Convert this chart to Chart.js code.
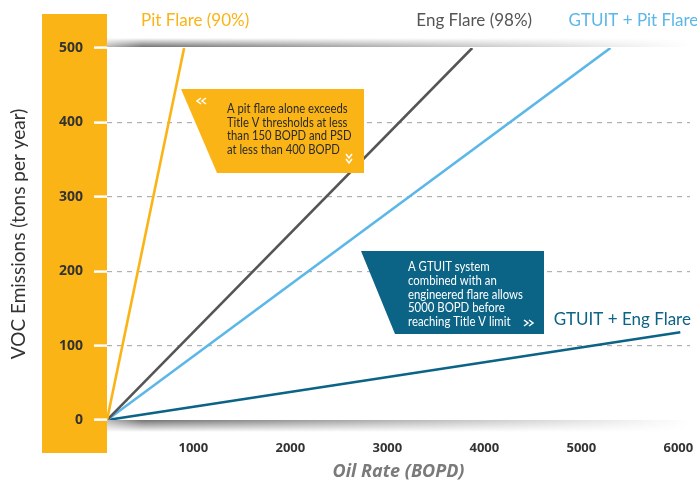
<!DOCTYPE html>
<html>
<head>
<meta charset="utf-8">
<script src="https://cdn.jsdelivr.net/npm/chart.js@4.4.1/dist/chart.umd.min.js"></script>
<style>
  html, body { margin: 0; padding: 0; background: #fff; }
  #wrap { width: 697px; height: 483px; position: relative; }
</style>
</head>
<body>
<div id="wrap"><canvas id="vocChart" width="697" height="483"></canvas></div>
<script>
// Series: every line starts at the chart origin
const seriesNames = ['Pit Flare (90%)', 'Eng Flare (98%)', 'GTUIT + Pit Flare', 'GTUIT + Eng Flare'];
const seriesColors = ['#FBB416', '#555555', '#5BB7E8', '#0B6386'];
const startRate = [110, 110, 110, 110];
const startVoc = [0, 0, 0, 0];
const endRate = [905, 3875, 5300, 6020];
const endVoc = [500, 500, 500, 118];

const yTicks = [0, 100, 200, 300, 400, 500];
const xTicks = [1000, 2000, 3000, 4000, 5000, 6000];

const orange = '#FBB416';
const teal = '#0B6386';

const datasets = seriesNames.map((name, i) => ({
    label: name,
    data: [{ x: startRate[i], y: startVoc[i] }, { x: endRate[i], y: endVoc[i] }],
    borderColor: seriesColors[i],
    borderWidth: 2.6,
    pointRadius: 0,
    fill: false,
    tension: 0
}));

function chevron(ctx, x, y, dir) {
    // small white chevron, dir = 'left' | 'right' | 'down'
    ctx.beginPath();
    if (dir === 'left') { ctx.moveTo(x + 4, y - 3); ctx.lineTo(x, y); ctx.lineTo(x + 4, y + 3); }
    if (dir === 'right') { ctx.moveTo(x, y - 3); ctx.lineTo(x + 4, y); ctx.lineTo(x, y + 3); }
    if (dir === 'down') { ctx.moveTo(x - 3, y); ctx.lineTo(x, y + 4); ctx.lineTo(x + 3, y); }
    ctx.stroke();
}

// narrow text: draw squeezed horizontally
function narrowText(ctx, s, x, y, k) {
    ctx.save();
    ctx.translate(x, y);
    ctx.scale(k, 1);
    ctx.fillText(s, 0, 0);
    ctx.restore();
}

// orange band behind the y axis + shadow bars at 0 and 500
const backdrop = {
    id: 'backdrop',
    beforeDraw(chart) {
        const { ctx, chartArea } = chart;
        ctx.save();
        ctx.fillStyle = orange;
        ctx.fillRect(chartArea.left - 65, chartArea.top - 34, 65, chartArea.bottom - chartArea.top + 67);

        // soft grey bars, fading to the right
        const w = chartArea.right - chartArea.left;
        for (let x = 0; x < w; x += 1) {
            const t = x / w;
            let a = t < 0.06 ? 0.5 + t / 0.12 : 1 - (t - 0.06) / 0.94;
            a = Math.max(0, a) * 0.8;
            const px = chartArea.left + x;
            let g = ctx.createLinearGradient(0, chartArea.top - 10, 0, chartArea.top - 1);
            g.addColorStop(0, 'rgba(80,80,80,0)');
            g.addColorStop(1, 'rgba(80,80,80,' + a + ')');
            ctx.fillStyle = g;
            ctx.fillRect(px, chartArea.top - 10, 1, 9);
            g = ctx.createLinearGradient(0, chartArea.bottom, 0, chartArea.bottom + 12);
            g.addColorStop(0, 'rgba(80,80,80,' + a + ')');
            g.addColorStop(1, 'rgba(80,80,80,0)');
            ctx.fillStyle = g;
            ctx.fillRect(px, chartArea.bottom, 1, 12);
        }
        ctx.restore();
    },
    afterDraw(chart) {
        const { ctx } = chart;
        const xs = chart.scales.x, ys = chart.scales.y;
        ctx.save();

        // series labels next to line ends
        ctx.font = '17px Lato';
        ctx.textBaseline = 'middle';
        ctx.textAlign = 'center';
        const labelOffsets = [[11, -27], [2, -27], [23, -27], [-58, -13]];
        seriesNames.forEach((name, i) => {
            const px = xs.getPixelForValue(endRate[i]) + labelOffsets[i][0];
            const py = ys.getPixelForValue(endVoc[i]) + labelOffsets[i][1];
            ctx.fillStyle = seriesColors[i];
            ctx.fillText(name, px, py);
        });

        // orange callout
        ctx.fillStyle = orange;
        ctx.beginPath();
        ctx.moveTo(181, 89); ctx.lineTo(364, 89); ctx.lineTo(364, 173); ctx.lineTo(217, 173);
        ctx.closePath(); ctx.fill();
        ctx.strokeStyle = '#ffffff';
        ctx.lineWidth = 1.5;
        chevron(ctx, 197, 101, 'left'); chevron(ctx, 202, 101, 'left');
        chevron(ctx, 349, 154, 'down'); chevron(ctx, 349, 159, 'down');
        ctx.fillStyle = '#2a2a2a';
        ctx.font = '12.5px Lato';
        ctx.textAlign = 'left';
        ['A pit flare alone exceeds', 'Title V thresholds at less', 'than 150 BOPD and PSD', 'at less than 400 BOPD']
            .forEach((s, i) => narrowText(ctx, s, 227, 109 + i * 13.5, 0.9));

        // teal callout
        ctx.fillStyle = teal;
        ctx.beginPath();
        ctx.moveTo(361, 251); ctx.lineTo(544, 251); ctx.lineTo(544, 334); ctx.lineTo(395, 334);
        ctx.closePath(); ctx.fill();
        ctx.fillStyle = '#ffffff';
        ['A GTUIT system', 'combined with an', 'engineered flare allows', '5000 BOPD before', 'reaching Title V limit']
            .forEach((s, i) => narrowText(ctx, s, 408, 267 + i * 13.8, 0.91));
        chevron(ctx, 524, 323, 'right'); chevron(ctx, 529, 323, 'right');
        ctx.restore();
    }
};

new Chart(document.getElementById('vocChart'), {
    type: 'line',
    data: { datasets },
    options: {
        responsive: false,
        animation: false,
        layout: { padding: { top: 48, right: 7, left: 0, bottom: 0 } },
        plugins: { legend: { display: false }, tooltip: { enabled: false } },
        scales: {
            x: {
                type: 'linear',
                min: 110,
                max: 6120,
                afterBuildTicks(scale) { scale.ticks = xTicks.map(v => ({ value: v })); },
                afterFit(scale) { scale.height = 63; scale.paddingLeft = 0; scale.paddingRight = 0; },
                grid: { display: false },
                border: { display: false },
                ticks: {
                    padding: 12,
                    color: '#333',
                    font: { family: '"Open Sans"', size: 13, weight: 'bold' },
                    callback: v => String(v)
                },
                title: {
                    display: true,
                    text: 'Oil Rate (BOPD)',
                    color: '#7a7a7a',
                    padding: { top: 0, bottom: 0 },
                    font: { family: '"Open Sans"', size: 18, weight: 'bold', style: 'italic' }
                }
            },
            y: {
                min: 0,
                max: 500,
                afterBuildTicks(scale) { scale.ticks = yTicks.map(v => ({ value: v })); },
                afterFit(scale) { scale.width = 107; },
                grid: {
                    color: c => (c.tick && (c.tick.value === 0 || c.tick.value === 500)) ? 'rgba(0,0,0,0)' : '#b0b0b0',
                    lineWidth: 1.2,
                    tickColor: '#ffffff',
                    tickLength: 13,
                    tickWidth: 2.5
                },
                border: { display: false, dash: [5, 5] },
                ticks: {
                    padding: 11,
                    color: '#333',
                    font: { family: '"Open Sans"', size: 14, weight: 'bold' }
                },
                title: {
                    display: true,
                    text: 'VOC Emissions (tons per year)',
                    color: '#333',
                    padding: { top: 7, bottom: 0 },
                    font: { family: 'Lato', size: 19 }
                }
            }
        }
    },
    plugins: [backdrop]
});
</script>
</body>
</html>
